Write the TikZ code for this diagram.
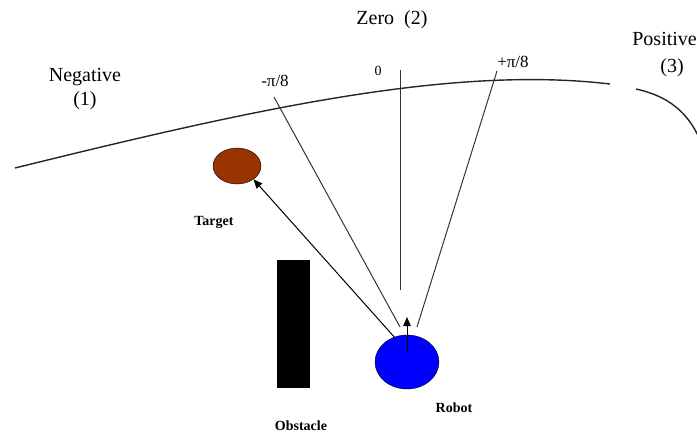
\documentclass[tikz,border=0pt]{standalone}
\usepackage{fontspec}
\setmainfont{Liberation Serif}
\usetikzlibrary{arrows.meta,shapes.geometric}
\tikzset{
  zonelabel/.style={align=center, inner sep=0pt, font=\fontsize{20}{24}\selectfont},
  anglelabel/.style={inner sep=0pt, font=\fontsize{17}{20}\selectfont},
  objlabel/.style={inner sep=0pt, font=\fontsize{14}{16}\selectfont\bfseries},
  ray/.style={draw=black!80, line width=1pt},
  arrow/.style={-{Triangle[length=9pt,width=7.5pt]}, line width=1pt},
  boundary/.style={draw=black!85, line width=1.4pt}
}

\begin{document}
\begin{tikzpicture}[x=1pt,y=-1pt]
\useasboundingbox (0,0) rectangle (697,434);
% zone labels along the boundary
\node[zonelabel] (neg) at (85,89) {Negative\\(1)};
\node[zonelabel] (zero) at (392,20) {Zero\enspace(2)};
\node[zonelabel, anchor=east] (pos) at (697,39) {Positive};
\node[zonelabel] (posnum) at (672,68) {(3)};
\node[anglelabel] (mpi) at (275,81) {-π/8};
\node[anglelabel, font=\fontsize{14}{16}\selectfont] (nil) at (378,71) {0};
\node[anglelabel] (ppi) at (513,62) {+π/8};
% the boundary curves
\draw[boundary] (15,168) .. controls (250,110) and (450,65) .. (610,84);
\draw[boundary] (636,89) .. controls (668,96) and (688,112) .. (700,140);
% objects
\node[ellipse, draw, fill=blue, minimum width=64pt, minimum height=54pt, inner sep=0pt] (robot) at (407,362) {};
\node[ellipse, draw, fill={rgb,255:red,153;green,51;blue,0}, minimum width=48pt, minimum height=36pt, inner sep=0pt] (target) at (237,166) {};
\node[rectangle, fill=black, minimum width=33pt, minimum height=128pt, inner sep=0pt] (obstacle) at (293.5,324) {};
\node[objlabel] (tlab) at (214,222) {Target};
\node[objlabel] (olab) at (301,426) {Obstacle};
\node[objlabel] (rlab) at (454,408) {Robot};
% rays from the robot
\coordinate (mtop) at (274,97);
\coordinate (mbot) at (400,327);
\coordinate (ztop) at (400,70);
\coordinate (zbot) at (400,290);
\coordinate (ptop) at (497,71);
\coordinate (pbot) at (417,327);
\coordinate (tail) at (407,352);
\coordinate (head) at (407,317);
\draw[ray] (mbot) -- (mtop);
\draw[ray] (zbot) -- (ztop);
\draw[ray] (pbot) -- (ptop);
\draw[arrow] (robot.117) -- (target.-39);
\draw[arrow] (tail) -- (head);
\end{tikzpicture}
\end{document}
